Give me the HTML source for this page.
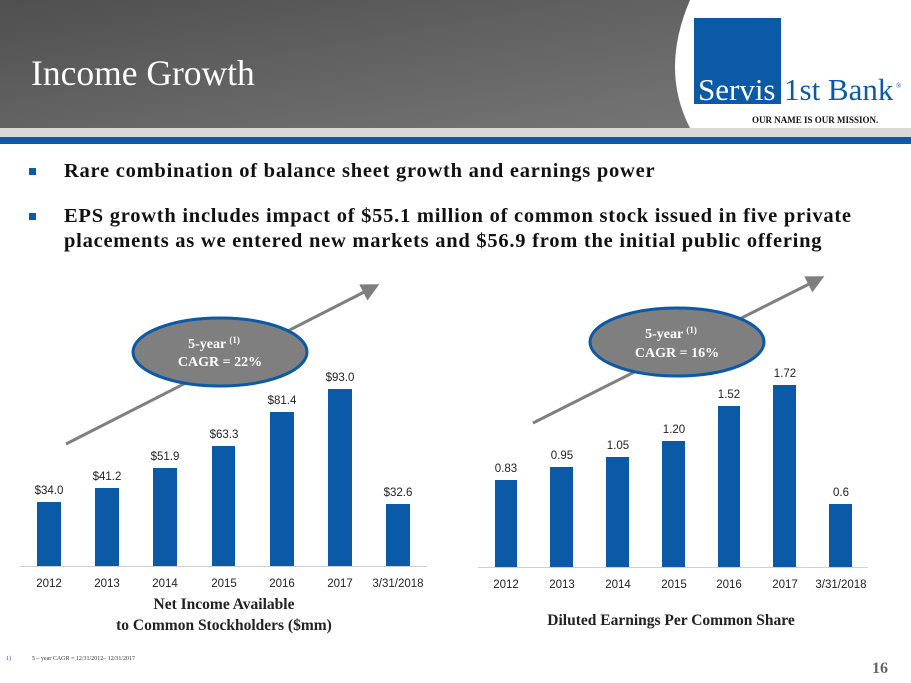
<!DOCTYPE html>
<html><head><meta charset="utf-8"><style>
body{margin:0;width:911px;height:683px;overflow:hidden;background:#fff;position:relative;font-family:"Liberation Serif",serif}
.hdr{position:absolute;left:0;top:0;width:911px;height:128px;background:linear-gradient(170deg,#4f4f4f 0%,#6a6a6a 60%,#7a7a7a 100%)}
.t{position:absolute;left:31px;top:52px;color:#fff;font-size:35.5px}
.b{position:absolute;left:25px;font-size:20.5px;letter-spacing:0.75px;font-weight:bold;color:#111;line-height:25px}
.b .sq{position:absolute;left:4px;top:9px;width:7px;height:7px;background:#0b5aa8}
.b span.tx{position:absolute;left:39px;white-space:nowrap}
</style></head><body>
<div class="hdr"></div>
<svg style="position:absolute;left:0;top:0" width="911" height="150">
<path d="M690,0 Q660,70 690,128 L911,128 L911,0 Z" fill="#fff"/>
<rect x="0" y="128" width="911" height="9" fill="#d9d9d9"/>
<rect x="0" y="137" width="911" height="7" fill="#0b5aa8"/>
<rect x="694" y="18" width="87" height="86" fill="#0b5aa8"/>
<text x="698" y="100" fill="#fff" font-family="Liberation Serif" font-size="31">Servis</text>
<text x="784" y="100" fill="#0b5aa8" font-family="Liberation Serif" font-size="31">1st Bank</text>
<text x="896" y="88" fill="#0b5aa8" font-size="7">®</text>
<text x="752" y="123" fill="#111" font-family="Liberation Serif" font-size="9" font-weight="bold">OUR NAME IS OUR MISSION.</text>
</svg>
<div class="t">Income Growth</div>
<div class="b" style="top:159px"><div class="sq"></div><span class="tx">Rare combination of balance sheet growth and earnings power</span></div>
<div class="b" style="top:204px"><div class="sq"></div><span class="tx">EPS growth includes impact of $55.1 million of common stock issued in five private<br>placements as we entered new markets and $56.9 from the initial public offering</span></div>
<svg style="position:absolute;left:0;top:260px" width="911" height="423" viewBox="0 260 911 423" font-family="Liberation Sans">
<defs><marker id="ah" markerWidth="6" markerHeight="6" refX="4" refY="3" orient="auto"><path d="M0,0 L6,3 L0,6 Z" fill="#7f7f7f"/></marker></defs>
<g fill="#0b5aa8">
<rect x="37" y="502" width="24" height="64"/><rect x="95" y="488" width="24" height="78"/><rect x="153" y="468" width="24" height="98"/><rect x="212" y="446" width="23" height="120"/><rect x="270" y="412" width="24" height="154"/><rect x="328" y="389" width="24" height="177"/><rect x="386" y="504" width="24" height="62"/>
<rect x="495" y="480" width="22" height="87"/><rect x="550" y="467" width="23" height="100"/><rect x="606" y="457" width="23" height="110"/><rect x="662" y="441" width="23" height="126"/><rect x="718" y="406" width="22" height="161"/><rect x="773" y="385" width="23" height="182"/><rect x="829" y="504" width="23" height="63"/>
</g>
<line x1="20" y1="566.5" x2="427" y2="566.5" stroke="#d0d0d0"/>
<line x1="478" y1="567.5" x2="868" y2="567.5" stroke="#d0d0d0"/>
<g font-size="11.5" fill="#222" text-anchor="middle">
<text x="49" y="494">$34.0</text><text x="107" y="480">$41.2</text><text x="165" y="460">$51.9</text><text x="224" y="438">$63.3</text><text x="282" y="404">$81.4</text><text x="340" y="381">$93.0</text><text x="398" y="496">$32.6</text>
<text x="49" y="587">2012</text><text x="107" y="587">2013</text><text x="165" y="587">2014</text><text x="224" y="587">2015</text><text x="282" y="587">2016</text><text x="340" y="587">2017</text><text x="398" y="587">3/31/2018</text>
<text x="506" y="472">0.83</text><text x="562" y="459">0.95</text><text x="618" y="449">1.05</text><text x="674" y="433">1.20</text><text x="729" y="398">1.52</text><text x="785" y="377">1.72</text><text x="841" y="496">0.6</text>
<text x="506" y="588">2012</text><text x="562" y="588">2013</text><text x="618" y="588">2014</text><text x="674" y="588">2015</text><text x="729" y="588">2016</text><text x="785" y="588">2017</text><text x="841" y="588">3/31/2018</text>
</g>
<line x1="66" y1="444" x2="374" y2="287" stroke="#7f7f7f" stroke-width="3" marker-end="url(#ah)"/>
<line x1="533" y1="423" x2="819" y2="279" stroke="#7f7f7f" stroke-width="3" marker-end="url(#ah)"/>
<ellipse cx="220" cy="352" rx="87" ry="34" fill="#7f7f7f" stroke="#0b5aa8" stroke-width="3"/>
<ellipse cx="677" cy="342" rx="87" ry="34" fill="#7f7f7f" stroke="#0b5aa8" stroke-width="3"/>
<g font-family="Liberation Serif" font-weight="bold" fill="#fff" text-anchor="middle" font-size="14">
<text x="214" y="348">5-year <tspan font-size="9" dy="-5">(1)</tspan></text><text x="220" y="366">CAGR = 22%</text>
<text x="671" y="338">5-year <tspan font-size="9" dy="-5">(1)</tspan></text><text x="677" y="357">CAGR = 16%</text>
</g>
<g font-family="Liberation Serif" font-weight="bold" fill="#222" text-anchor="middle" font-size="15.5">
<text x="224" y="609">Net Income Available</text><text x="224" y="630">to Common Stockholders ($mm)</text>
<text x="671" y="625">Diluted Earnings Per Common Share</text>
</g>
<text x="6" y="660" font-size="6" fill="#0b5aa8" font-family="Liberation Serif">1)</text>
<text x="32" y="660" font-size="6" fill="#333" font-family="Liberation Serif">5 – year CAGR = 12/31/2012– 12/31/2017</text>
<text x="888" y="673" font-size="16" fill="#666" font-family="Liberation Serif" font-weight="bold" text-anchor="end">16</text>
</svg>
</body></html>
